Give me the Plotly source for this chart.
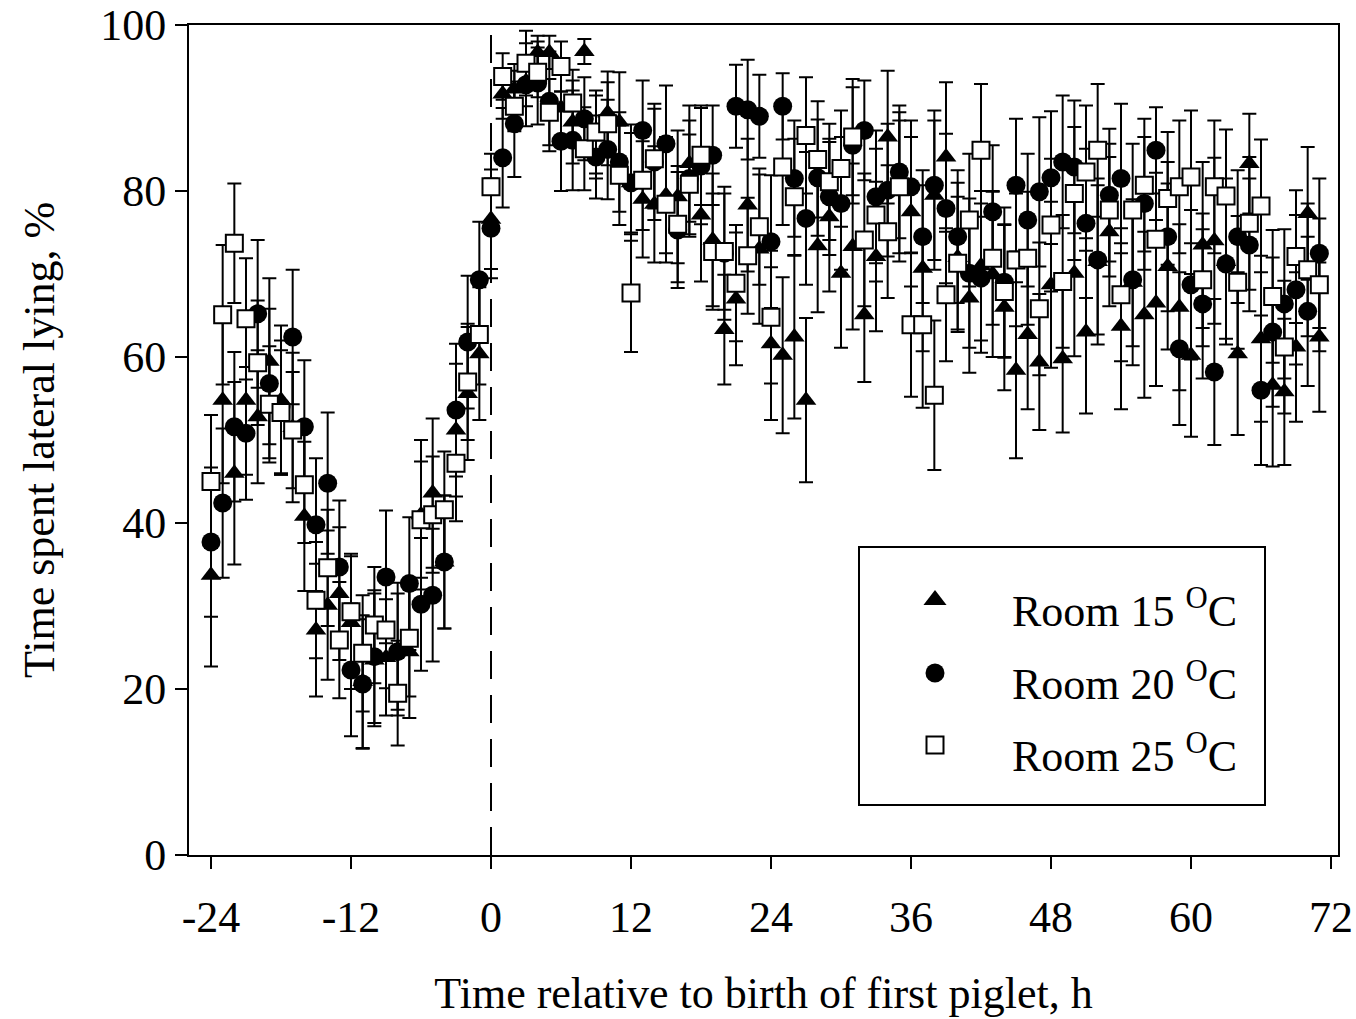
import plotly.graph_objects as go

# Hours relative to the birth of the first piglet
hours = [-24, -23, -22, -21, -20, -19, -18, -17, -16, -15, -14, -13, -12, -11, -10, -9,
         -8, -7, -6, -5, -4, -3, -2, -1, 0, 1, 2, 3, 4, 5, 6, 7,
         8, 9, 10, 11, 12, 13, 14, 15, 16, 17, 18, 19, 20, 21, 22, 23,
         24, 25, 26, 27, 28, 29, 30, 31, 32, 33, 34, 35, 36, 37, 38, 39,
         40, 41, 42, 43, 44, 45, 46, 47, 48, 49, 50, 51, 52, 53, 54, 55,
         56, 57, 58, 59, 60, 61, 62, 63, 64, 65, 66, 67, 68, 69, 70, 71]

# Room 15 oC: mean % time lateral lying and SE
room15 = [33.7, 54.8, 46.0, 54.8, 52.8, 59.5, 54.8, 51.5, 40.8, 27.1, 30.1, 31.5, 28.0, 20.9, 23.5, 23.8,
          24.8, 24.5, 41.0, 43.6, 35.3, 51.2, 55.6, 60.4, 76.6, 91.7, 92.3, 93.2, 96.7, 96.7, 90.0, 88.3,
          96.8, 86.5, 89.4, 88.3, 81.0, 79.0, 78.4, 79.5, 79.3, 83.3, 77.1, 74.1, 63.3, 67.0, 78.3, 73.0,
          61.6, 60.2, 62.4, 54.8, 73.4, 76.9, 70.1, 73.3, 65.1, 72.1, 86.5, 80.5, 77.5, 70.7, 79.5, 84.1,
          72.0, 67.1, 71.0, 70.0, 66.0, 58.4, 62.7, 59.4, 68.7, 59.8, 70.1, 63.0, 71.5, 75.1, 63.7, 69.0,
          65.1, 66.5, 70.9, 66.0, 60.2, 73.5, 74.0, 71.5, 60.4, 83.3, 62.2, 56.6, 55.8, 61.2, 77.3, 62.4]
room15_se = [11.0, 10.0, 11.0, 9.0, 8.0, 10.0, 9.0, 9.0, 9.0, 8.0, 9.0, 8.0, 8.0, 8.0, 8.0, 7.0,
             8.0, 8.0, 9.0, 9.0, 8.0, 8.0, 8.0, 8.0, 6.0, 3.0, 3.0, 3.0, 2.0, 2.0, 4.0, 5.0,
             1.5, 5.0, 5.0, 6.0, 6.0, 7.0, 7.0, 7.0, 8.0, 7.0, 8.0, 8.0, 6.6, 8.0, 8.0, 9.0,
             9.2, 9.4, 9.8, 9.9, 8.0, 9.0, 9.0, 10.0, 8.1, 9.0, 8.0, 9.0, 9.0, 10.0, 9.0, 9.0,
             9.0, 9.0, 9.0, 10.0, 10.0, 10.6, 9.0, 8.2, 10.0, 8.9, 10.0, 9.8, 10.0, 9.0, 10.0, 10.0,
             10.0, 10.0, 10.0, 10.0, 9.8, 10.0, 10.0, 10.0, 9.8, 6.0, 10.0, 9.8, 8.8, 9.0, 8.0, 9.0]

# Room 20 oC
room20 = [37.7, 42.4, 51.6, 50.8, 65.2, 56.8, 54.0, 62.4, 51.6, 39.8, 44.8, 34.7, 22.3, 20.6, 23.9, 33.5,
          24.5, 32.7, 30.2, 31.3, 35.3, 53.6, 61.8, 69.3, 75.5, 84.0, 88.1, 92.8, 93.0, 90.8, 86.0, 86.1,
          88.7, 84.1, 85.0, 83.5, 81.0, 87.3, 83.5, 85.7, 75.3, 81.5, 83.0, 84.3, 72.5, 90.2, 89.8, 89.0,
          73.9, 90.2, 81.5, 76.7, 81.6, 79.3, 78.5, 85.5, 87.3, 79.3, 80.1, 82.3, 80.5, 74.5, 80.7, 77.9,
          74.5, 70.1, 69.5, 77.5, 69.0, 80.7, 76.5, 79.9, 81.6, 83.5, 82.9, 76.1, 71.7, 79.5, 81.5, 69.3,
          78.5, 84.9, 74.5, 61.0, 68.7, 66.4, 58.2, 71.2, 74.5, 73.5, 56.0, 63.0, 66.4, 68.1, 65.5, 72.5]
room20_se = [9.0, 9.0, 9.0, 8.0, 8.9, 9.0, 8.0, 8.1, 8.0, 8.0, 8.5, 8.0, 8.0, 7.8, 8.0, 8.0,
             7.0, 8.0, 8.0, 8.0, 8.0, 8.0, 8.0, 7.0, 6.0, 6.0, 6.4, 5.0, 5.0, 6.0, 6.0, 6.0,
             5.0, 5.0, 6.0, 6.0, 7.0, 6.0, 7.0, 7.0, 7.0, 7.0, 7.0, 6.0, 8.0, 5.0, 6.0, 5.0,
             8.0, 4.0, 7.0, 8.0, 7.0, 7.0, 8.0, 7.0, 6.0, 8.0, 8.0, 8.0, 8.0, 8.0, 9.0, 9.0,
             8.0, 9.0, 9.0, 8.0, 9.0, 8.0, 8.0, 9.0, 8.0, 8.0, 8.0, 9.0, 9.0, 8.0, 9.0, 8.0,
             8.0, 5.2, 9.0, 9.2, 9.0, 9.0, 8.8, 9.0, 8.0, 8.0, 9.0, 9.0, 9.0, 9.0, 9.0, 9.0]

# Room 25 oC
room25 = [45.0, 65.1, 73.7, 64.6, 59.3, 54.3, 53.3, 51.2, 44.6, 30.7, 34.6, 25.9, 29.3, 24.3, 27.7, 27.1,
          19.5, 26.1, 40.4, 41.0, 41.6, 47.2, 57.0, 62.7, 80.5, 93.8, 90.2, 95.4, 94.3, 89.5, 95.0, 90.6,
          85.1, 87.1, 88.1, 81.9, 67.7, 81.3, 83.9, 78.4, 76.0, 80.8, 84.3, 72.7, 72.7, 68.9, 72.2, 75.7,
          64.8, 82.9, 79.3, 86.7, 83.8, 81.1, 82.7, 86.5, 74.1, 77.1, 75.1, 80.5, 63.9, 63.9, 55.4, 67.5,
          71.3, 76.5, 84.9, 71.9, 67.9, 71.7, 71.9, 65.8, 75.9, 69.1, 79.7, 82.3, 84.9, 77.7, 67.5, 77.7,
          80.7, 74.2, 79.1, 80.5, 81.7, 69.3, 80.5, 79.4, 69.0, 76.1, 78.2, 67.3, 61.2, 72.1, 70.5, 68.7]
room25_se = [8.0, 8.4, 7.2, 7.3, 7.5, 7.0, 7.5, 7.0, 7.0, 7.0, 7.0, 7.0, 7.0, 7.0, 7.0, 7.0,
             6.3, 7.0, 7.0, 7.0, 7.0, 7.0, 7.0, 6.0, 4.0, 2.8, 3.0, 3.9, 3.0, 4.0, 3.0, 4.0,
             5.0, 5.0, 5.0, 6.0, 7.1, 6.0, 6.0, 7.0, 7.0, 6.0, 6.0, 7.0, 7.0, 7.0, 7.0, 7.0,
             8.0, 7.0, 7.0, 7.0, 7.0, 7.0, 7.0, 7.0, 8.0, 8.0, 8.0, 8.0, 8.7, 10.0, 9.0, 8.0,
             8.0, 8.0, 8.0, 8.0, 8.0, 8.0, 8.0, 8.0, 8.0, 8.0, 8.0, 8.0, 8.0, 8.0, 8.0, 8.0,
             8.0, 8.0, 8.0, 8.0, 8.0, 8.0, 8.0, 8.0, 8.0, 8.0, 8.0, 8.0, 8.0, 8.0, 8.0, 8.0]

x_tickvals = [-24, -12, 0, 12, 24, 36, 48, 60, 72]
x_ticktext = ["-24", "-12", "0", "12", "24", "36", "48", "60", "72"]
y_tickvals = [0, 20, 40, 60, 80, 100]

series_names = ["Room 15 <sup>O</sup>C", "Room 20 <sup>O</sup>C", "Room 25 <sup>O</sup>C"]

FONT = "Liberation Serif, Times New Roman, serif"
INK = "black"
FIG_W, FIG_H = 1356, 1019
M_L, M_R, M_T, M_B = 189, 18, 25, 164

marker_styles = [
    dict(symbol="triangle-up", size=18, color=INK, line=dict(width=0)),
    dict(symbol="circle", size=19, color=INK, line=dict(width=0)),
    dict(symbol="square", size=17, color="white", line=dict(width=2, color=INK)),
]
key_styles = [
    dict(symbol="triangle-up", size=20, color=INK, line=dict(width=0)),
    dict(symbol="circle", size=19, color=INK, line=dict(width=0)),
    dict(symbol="square", size=17, color="white", line=dict(width=2, color=INK)),
]


def error_bars(se):
    return dict(type="data", array=se, visible=True, color=INK, thickness=2, width=7)


fig = go.Figure()
for vals, se, style, name in zip([room15, room20, room25],
                                 [room15_se, room20_se, room25_se],
                                 marker_styles, series_names):
    fig.add_trace(go.Scatter(x=hours, y=vals, mode="markers", name=name,
                             marker=style, error_y=error_bars(se), showlegend=False))

# dashed marker at the birth of the first piglet
fig.add_shape(type="line", xref="x", yref="paper", x0=0, x1=0, y0=0, y1=1,
              line=dict(color=INK, width=2, dash="28px,16px"), layer="below")

# legend drawn on a pixel-scaled overlay so the keys sit where the text needs them
plot_w = FIG_W - M_L - M_R
plot_h = FIG_H - M_T - M_B
box_left, box_right, box_top, box_bottom = 859, 1265, 547, 805
key_x, text_x = 935, 1010
key_rows = [600, 673, 745]
text_rows = [608, 681, 753]

fig.add_shape(type="rect", xref="x2", yref="y2",
              x0=box_left, x1=box_right, y0=box_top, y1=box_bottom,
              line=dict(color=INK, width=2), fillcolor="rgba(0,0,0,0)", layer="above")
for ky, ty, style, name in zip(key_rows, text_rows, key_styles, series_names):
    fig.add_trace(go.Scatter(x=[key_x], y=[ky], mode="markers", marker=style,
                             xaxis="x2", yaxis="y2", showlegend=False, hoverinfo="skip"))
    fig.add_annotation(x=text_x, y=ty, xref="x2", yref="y2", text=name,
                       showarrow=False, xanchor="left", yanchor="middle",
                       font=dict(family=FONT, size=44, color=INK))

axis_common = dict(showline=True, linecolor=INK, linewidth=2, mirror=True,
                   ticks="outside", ticklen=12, tickwidth=2, tickcolor=INK,
                   showgrid=False, zeroline=False, automargin=False,
                   tickfont=dict(family=FONT, size=44, color=INK))

fig.update_layout(
    width=FIG_W, height=FIG_H, autosize=False,
    margin=dict(l=M_L, r=M_R, t=M_T, b=M_B),
    paper_bgcolor="white", plot_bgcolor="white",
    font=dict(family=FONT, size=44, color=INK),
    xaxis=dict(range=[-25.886, 72.6], tickvals=x_tickvals, ticktext=x_ticktext,
               ticklabelstandoff=10,
               title=dict(text="Time relative to birth of first piglet, h",
                          font=dict(family=FONT, size=44, color=INK), standoff=36),
               **axis_common),
    yaxis=dict(range=[0, 100], tickvals=y_tickvals,
               title=dict(text="Time spent lateral lying, %",
                          font=dict(family=FONT, size=44, color=INK), standoff=32),
               **axis_common),
    xaxis2=dict(overlaying="x", range=[M_L, M_L + plot_w], visible=False,
                fixedrange=True, automargin=False),
    yaxis2=dict(overlaying="y", range=[M_T + plot_h, M_T], visible=False,
                fixedrange=True, automargin=False),
    showlegend=False,
)

fig.write_html("out.html")
